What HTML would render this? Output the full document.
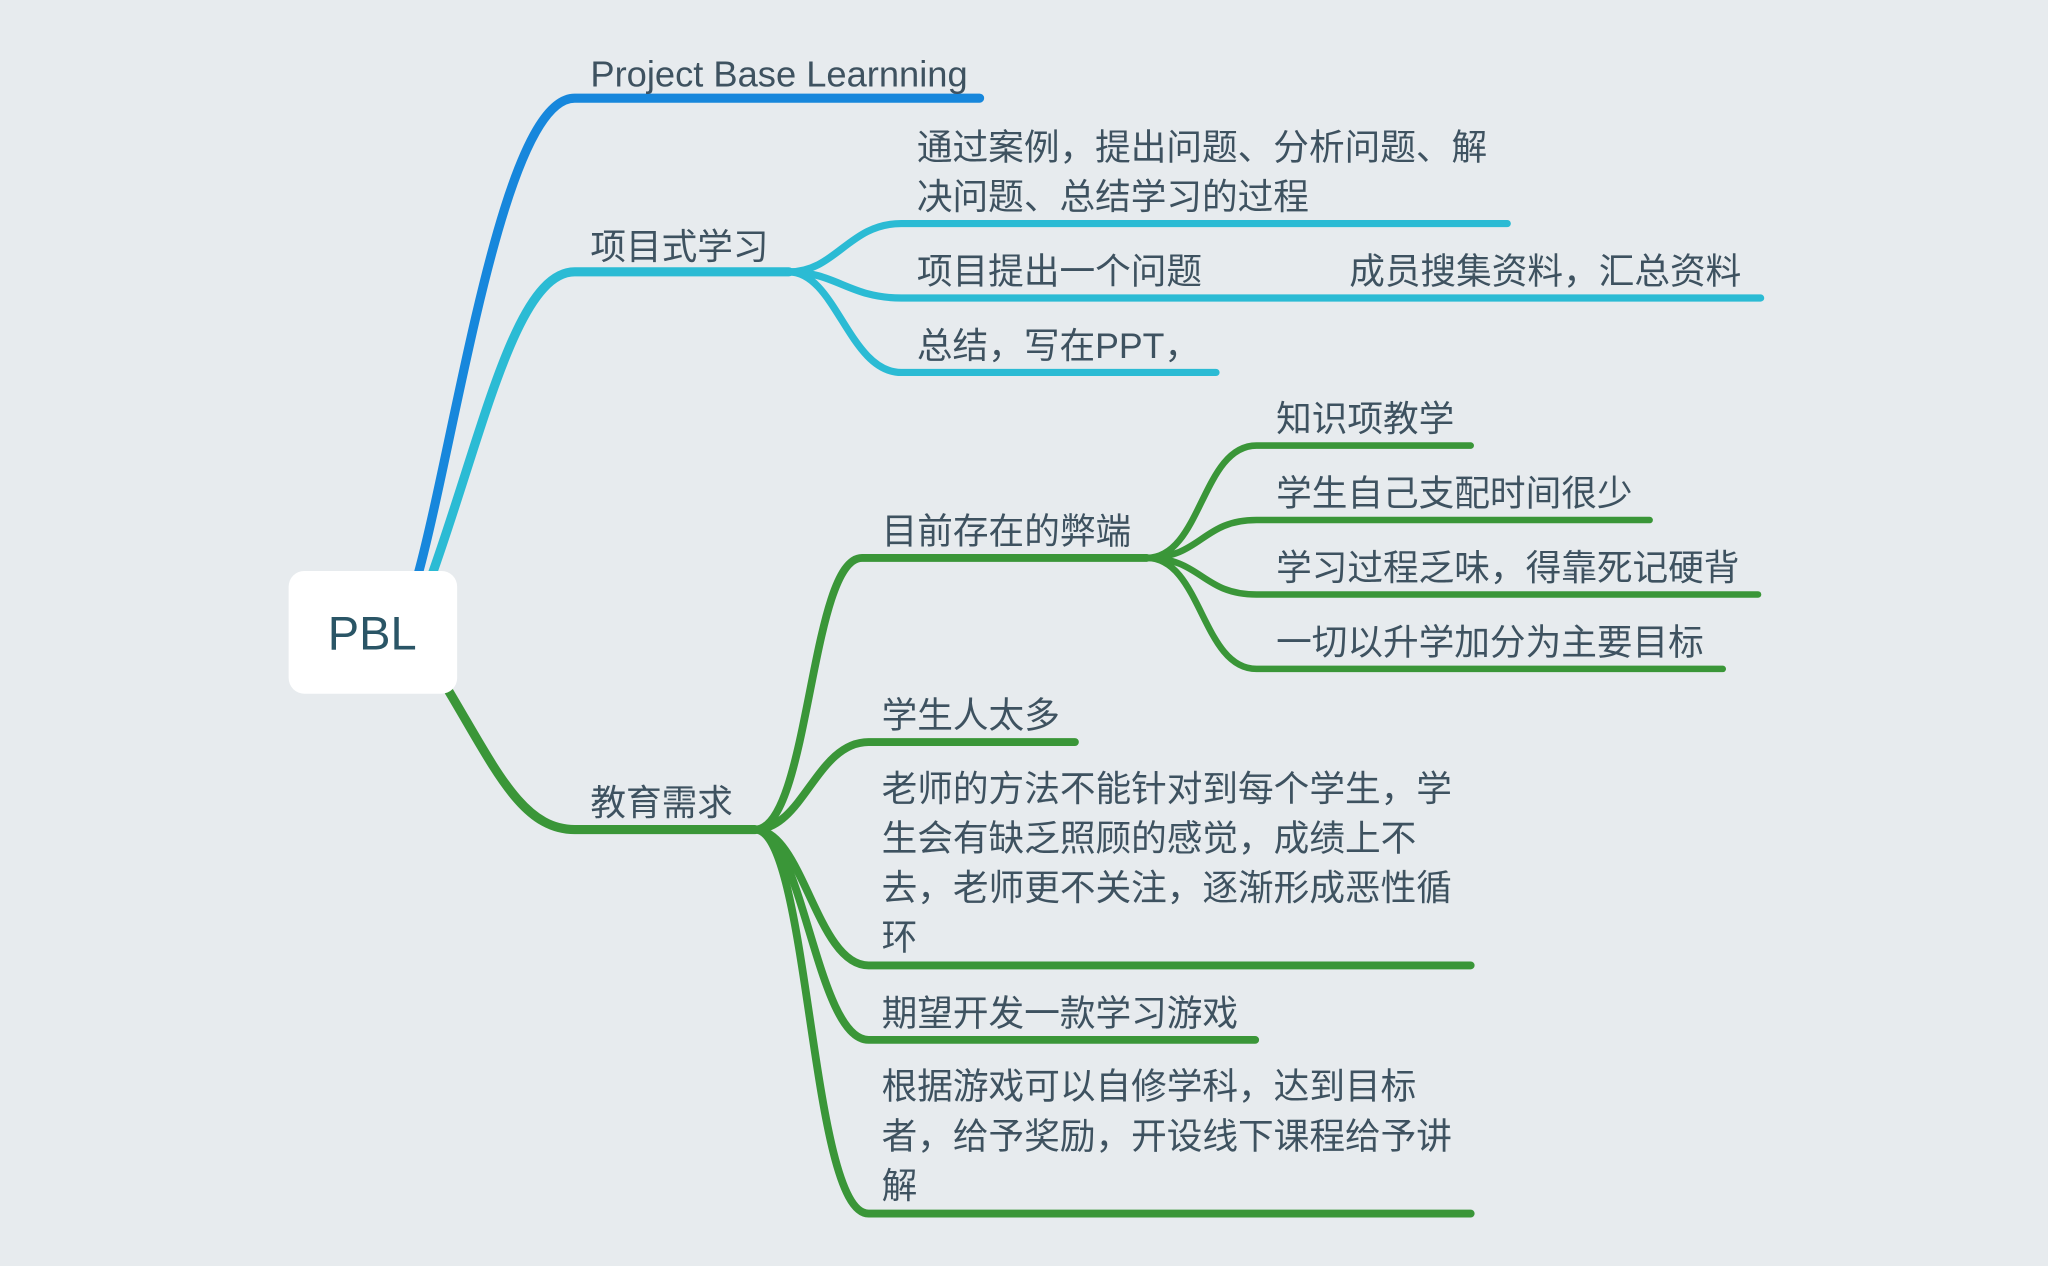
<!DOCTYPE html>
<html><head><meta charset="utf-8"><style>
html,body{margin:0;padding:0;background:#e7ebee;}
svg{display:block}
text{font-family:"Liberation Sans","Noto Sans CJK SC",sans-serif;fill:#3e5260;font-size:27.3px}
</style></head><body>
<svg width="2048" height="1266" viewBox="0 0 1568 969" xmlns="http://www.w3.org/2000/svg">
<rect width="1568" height="969" fill="#e7ebee"/>
<g fill="none" stroke-linecap="round">
<path d="M320,440 C350,330 385,75 440,75 L750,75" stroke="#1787dc" stroke-width="7"/>
<path d="M330,442 C370,330 395,208 440,208 L604,208" stroke="#2bbbd4" stroke-width="7"/>
<g stroke="#2bbbd4" stroke-width="5.5">
<path d="M604,208 C640,208 650,171 690,171 L1154,171"/>
<path d="M604,208 C640,208 650,228 690,228 L1348,228"/>
<path d="M604,208 C640,208 650,285 690,285 L931,285"/>
</g>
<path d="M343,528 C380,590 400,635 440,635 L578,635" stroke="#3a9638" stroke-width="7"/>
<g stroke="#3a9638" stroke-width="6">
<path d="M578,635 C620,635 620,427 660,427 L878,427"/>
<path d="M578,635 C615,635 625,568 665,568 L823,568"/>
<path d="M578,635 C615,635 625,739 665,739 L1126,739"/>
<path d="M578,635 C615,635 625,796 665,796 L961,796"/>
<path d="M578,635 C620,635 620,929 665,929 L1126,929"/>
</g>
<g stroke="#3a9638" stroke-width="5">
<path d="M878,427 C920,427 920,341 962,341 L1126,341"/>
<path d="M878,427 C920,427 920,398 962,398 L1263,398"/>
<path d="M878,427 C920,427 920,455 962,455 L1346,455"/>
<path d="M878,427 C920,427 920,512 962,512 L1319,512"/>
</g>
</g>
<rect x="221" y="437" width="129" height="94" rx="12" fill="#ffffff"/>
<text x="285" y="497" text-anchor="middle" style="font-size:36px;fill:#2a5566">PBL</text>
<text x="452" y="66" style="font-size:27.8px">Project Base Learnning</text>
<text x="452" y="198">项目式学习</text>
<text x="702" y="122">通过案例，提出问题、分析问题、解</text>
<text x="702" y="160">决问题、总结学习的过程</text>
<text x="702" y="217">项目提出一个问题</text>
<text x="1033" y="217">成员搜集资料，汇总资料</text>
<text x="702" y="274">总结，写在PPT，</text>
<text x="452" y="624">教育需求</text>
<text x="675" y="416">目前存在的弊端</text>
<text x="977" y="330">知识项教学</text>
<text x="977" y="387">学生自己支配时间很少</text>
<text x="977" y="444">学习过程乏味，得靠死记硬背</text>
<text x="977" y="501">一切以升学加分为主要目标</text>
<text x="675" y="557">学生人太多</text>
<text x="675" y="613">老师的方法不能针对到每个学生，学</text>
<text x="675" y="651">生会有缺乏照顾的感觉，成绩上不</text>
<text x="675" y="689">去，老师更不关注，逐渐形成恶性循</text>
<text x="675" y="727">环</text>
<text x="675" y="785">期望开发一款学习游戏</text>
<text x="675" y="841">根据游戏可以自修学科，达到目标</text>
<text x="675" y="879">者，给予奖励，开设线下课程给予讲</text>
<text x="675" y="917">解</text>
</svg>
</body></html>
